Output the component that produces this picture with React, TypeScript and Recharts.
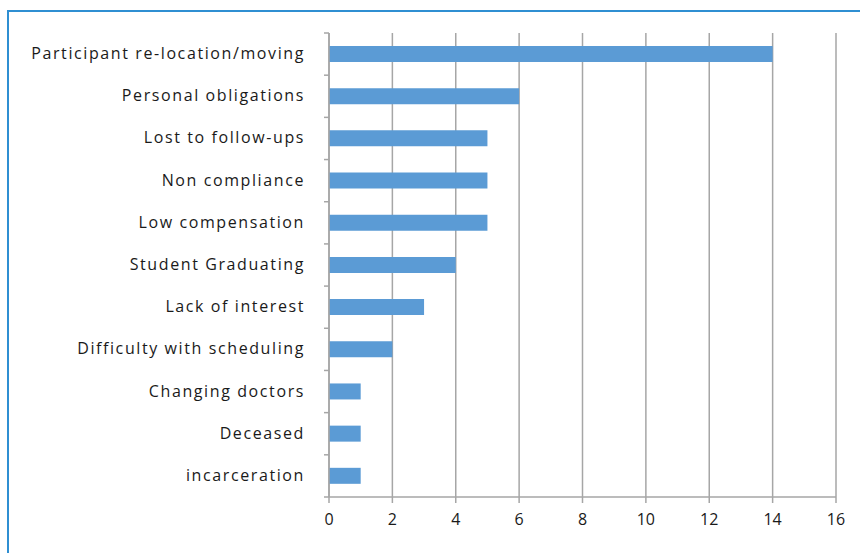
import { Bar, BarChart, CartesianGrid, XAxis, YAxis } from "recharts";

const reasons = [
  "Participant re-location/moving",
  "Personal obligations",
  "Lost to follow-ups",
  "Non compliance",
  "Low compensation",
  "Student Graduating",
  "Lack of interest",
  "Difficulty with scheduling",
  "Changing doctors",
  "Deceased",
  "incarceration",
];
const counts = [14, 6, 5, 5, 5, 4, 3, 2, 1, 1, 1];
const xTicks = [0, 2, 4, 6, 8, 10, 12, 14, 16];

const data = reasons.map((r, i) => ({ reason: r, count: counts[i] }));

const W = 860;
const H = 553;
const AXIS_W = 329;
const X_AXIS_H = 30;
const margin = { top: 33, right: 24, bottom: 26, left: 0 };
const step = (H - margin.top - margin.bottom - X_AXIS_H) / reasons.length;
const font = "'Open Sans', Lato, sans-serif";
const axisColor = "#a6a6a6";

function CategoryTick(props: any) {
  const { y, payload, index } = props;
  const ax = AXIS_W;
  const last = index === reasons.length - 1;
  return (
    <g>
      <line x1={ax - 5} x2={ax} y1={y - step / 2} y2={y - step / 2} stroke={axisColor} strokeWidth={1.5} />
      {last && <line x1={ax - 5} x2={ax} y1={y + step / 2} y2={y + step / 2} stroke={axisColor} strokeWidth={1.5} />}
      <text x={305} y={y} dy={5} textAnchor="end" fontSize={16} letterSpacing={1.6} fontFamily={font} fill="#1a1a1a">
        {payload.value}
      </text>
    </g>
  );
}

export default function App() {
  return (
    <div style={{ position: "absolute", left: 0, top: 0, width: W, height: H, background: "#fff", overflow: "hidden" }}>
      <div
        style={{
          position: "absolute",
          left: 7,
          top: 10,
          width: W,
          height: H,
          borderTop: "2px solid #2f8fd2",
          borderLeft: "2px solid #2f8fd2",
        }}
      />
      <BarChart
        width={W}
        height={H}
        data={data}
        layout="vertical"
        margin={margin}
        barCategoryGap={0}
        style={{ position: "absolute", left: 0, top: 0 }}
      >
        <CartesianGrid horizontal={false} stroke={axisColor} strokeWidth={1.5} />
        <XAxis
          type="number"
          domain={[0, 16]}
          ticks={xTicks}
          interval={0}
          height={X_AXIS_H}
          tick={{ fontSize: 16, fontFamily: font, fill: "#1a1a1a" }}
          tickSize={6}
          tickMargin={11}
          stroke={axisColor}
          strokeWidth={1.5}
        />
        <YAxis
          type="category"
          dataKey="reason"
          width={AXIS_W}
          tick={<CategoryTick />}
          tickLine={false}
          interval={0}
          stroke={axisColor}
          strokeWidth={1.5}
        />
        <Bar dataKey="count" fill="#5b9bd5" barSize={16} isAnimationActive={false} />
      </BarChart>
    </div>
  );
}
